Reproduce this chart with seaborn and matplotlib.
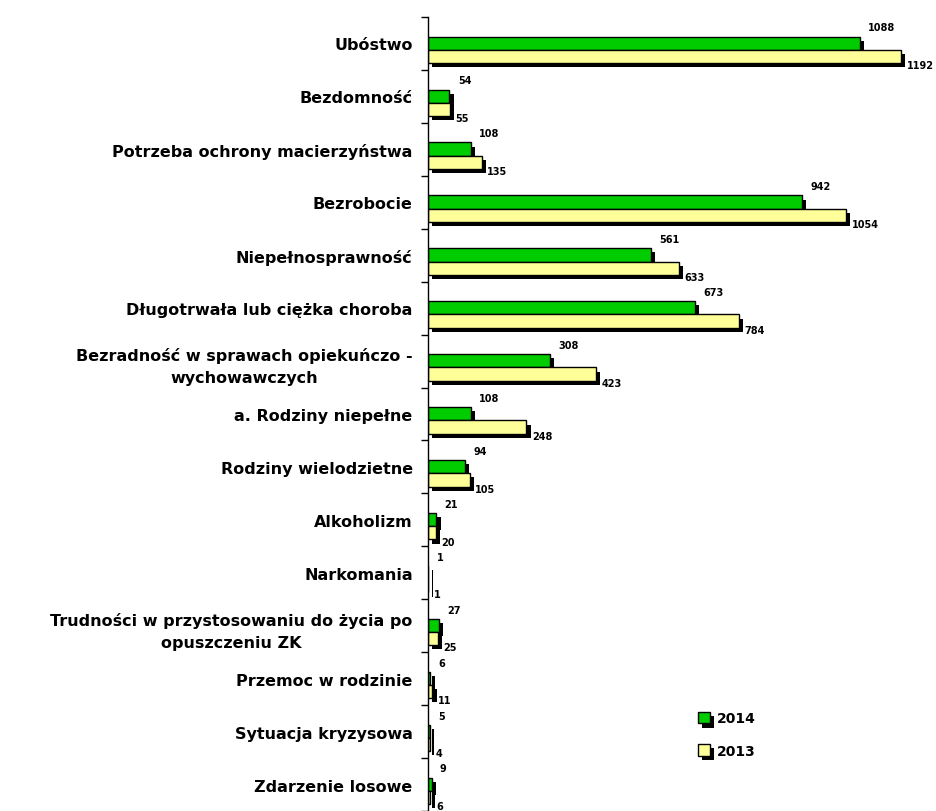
import pandas as pd
import matplotlib.pyplot as plt
import matplotlib.patheffects as pe
from matplotlib.patches import Patch
from matplotlib.ticker import FixedLocator
import seaborn as sns

categories = [
    'Ubóstwo',
    'Bezdomność',
    'Potrzeba ochrony macierzyństwa',
    'Bezrobocie',
    'Niepełnosprawność',
    'Długotrwała lub ciężka choroba',
    'Bezradność w sprawach opiekuńczo -\nwychowawczych',
    'a. Rodziny niepełne',
    'Rodziny wielodzietne',
    'Alkoholizm',
    'Narkomania',
    'Trudności w przystosowaniu do życia po\nopuszczeniu ZK',
    'Przemoc w rodzinie',
    'Sytuacja kryzysowa',
    'Zdarzenie losowe',
]
values_2014 = [1088, 54, 108, 942, 561, 673, 308, 108, 94, 21, 1, 27, 6, 5, 9]
values_2013 = [1192, 55, 135, 1054, 633, 784, 423, 248, 105, 20, 1, 25, 11, 4, 6]
years = ['2014', '2013']
colors = {'2014': '#00CC00', '2013': '#FFFF99'}

df = pd.DataFrame({
    'kategoria': categories * 2,
    'rok': ['2014'] * len(categories) + ['2013'] * len(categories),
    'liczba': values_2014 + values_2013,
})

sns.set_style('white')
plt.rcParams['font.family'] = ['DejaVu Sans']
plt.rcParams['text.color'] = 'black'

fig = plt.figure(figsize=(9.36, 8.12), dpi=100)
ax = fig.add_axes([428 / 936, 0, 508 / 936, 794 / 812])

sns.barplot(data=df, y='kategoria', x='liczba', hue='rok', hue_order=years,
            palette=colors, saturation=1, orient='h', width=0.5,
            edgecolor='black', linewidth=1, legend=False, ax=ax)

shadow = [pe.SimplePatchShadow(offset=(3, -3), shadow_rgbFace='black', alpha=1.0),
          pe.Normal()]
for p in ax.patches:
    p.set_y(p.get_y() + 0.12)
    p.set_path_effects(shadow)

# etykiety wartosci
for bars, yr in zip(ax.containers, years):
    for rect in bars:
        w = rect.get_width()
        if yr == '2014':
            ax.annotate(f'{int(w)}', xy=(w, rect.get_y()), xytext=(6, 3),
                        textcoords='offset points', ha='left', va='bottom',
                        fontsize=7, fontweight='bold', color='black')
        else:
            ax.annotate(f'{int(w)}', xy=(w, rect.get_y() + rect.get_height()),
                        xytext=(4, -1.5), textcoords='offset points', ha='left',
                        va='center', fontsize=7, fontweight='bold', color='black')

ax.set_xlim(0, 1280)
ax.set_ylim(len(categories) - 0.5, -0.5)
ax.set_xlabel('')
ax.set_ylabel('')
ax.set_xticks([])
for s in ['top', 'right', 'bottom']:
    ax.spines[s].set_visible(False)
ax.spines['left'].set_color('black')
ax.spines['left'].set_linewidth(1)

ax.set_yticks(range(len(categories)))
ax.set_yticklabels(categories, fontsize=11.5, fontweight='bold',
                   multialignment='center', linespacing=1.6, color='black')
ax.tick_params(axis='y', which='major', length=0, pad=11)
ax.yaxis.set_minor_locator(FixedLocator([i - 0.5 for i in range(len(categories) + 1)]))
ax.tick_params(axis='y', which='minor', length=5, width=1, color='black',
               direction='out', left=True)

handles = [Patch(facecolor=colors[y], edgecolor='black', label=y, path_effects=shadow)
           for y in years]
fig.legend(handles=handles, loc='upper left', bbox_to_anchor=(685 / 936, 1 - 700 / 812),
           frameon=False, prop={'weight': 'bold', 'size': 10},
           handlelength=0.9, handleheight=0.9, labelspacing=1.3, handletextpad=0.5)

fig.savefig('out.png', dpi=100)
